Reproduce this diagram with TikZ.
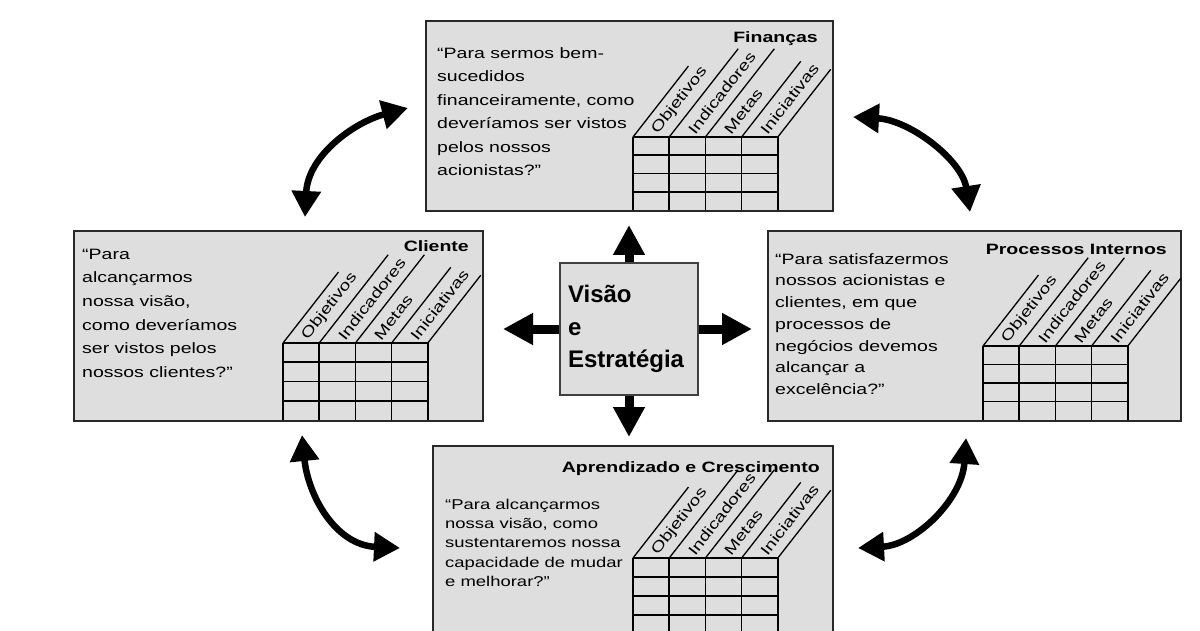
\documentclass[tikz,border=0pt]{standalone}
\usepackage{fontspec}
\setmainfont{Liberation Sans}
\newfontfamily\bodyfont{Liberation Sans}[FakeStretch=1.3]
\usetikzlibrary{arrows.meta}

\definecolor{panelfill}{RGB}{222,222,222}
\definecolor{panelrule}{RGB}{40,40,40}

\tikzset{
  panel/.style={draw=panelrule, line width=2pt, fill=panelfill, anchor=north west, inner sep=0pt},
  hub/.style={draw=black!75, line width=1.3pt, fill=panelfill, minimum width=138pt, minimum height=132pt,
    text width=122pt, align=left, inner sep=0pt, font=\bfseries\fontsize{24}{32.5}\selectfont},
  gridline/.style={line width=1.6pt, black},
  diagline/.style={line width=1.3pt, black},
  collabel/.style={anchor=west, rotate=52, inner sep=0pt, font=\bodyfont\fontsize{14.8}{16}\selectfont},
  paneltitle/.style={anchor=base east, inner sep=0pt, font=\bodyfont\bfseries\fontsize{15}{18}\selectfont},
  question/.style={anchor=north west, inner sep=0pt, align=left},
  radial/.style={line width=9pt, -{Triangle[length=30pt,width=30pt]}},
  swap arrow/.style={line width=6.5pt, {Triangle[length=26pt,width=28pt]}-{Triangle[length=26pt,width=28pt]}},
}

% Scorecard table: 4 columns with slanted headers
% #1 name prefix, #2 left x, #3 top y, #4 row height, #5 bottom y
\newcommand\bscgrid[5]{%
  \foreach \i in {0,...,4}
    \draw[gridline] ({#2+\i*36.2},#3) -- ({#2+\i*36.2},#5);
  \foreach \j in {0,...,3}
    \draw[gridline] (#2,{#3+\j*#4}) -- ({#2+4*36.2},{#3+\j*#4});
  \foreach \i/\L in {0/90,1/112,2/112,3/96,4/86}
    \draw[diagline] ({#2+\i*36.2},#3) -- ++({0.616*\L},{-0.788*\L});
  \foreach \i/\t in {0/Objetivos,1/Indicadores,2/Metas,3/Iniciativas}
    \node[collabel] (#1-lab-\i) at ({#2+\i*36.2+18.1+0.616*6},{#3-0.788*6}) {\t};
}

\begin{document}
\begin{tikzpicture}[x=1pt,y=-1pt]
\useasboundingbox (0,0) rectangle (1200,631);
\clip (0,0) rectangle (1200,631);

% four perspective panels
\node[panel, minimum width=407pt, minimum height=190pt] (fin) at (425,20) {};
\node[panel, minimum width=409pt, minimum height=190pt] (cli) at (73,230) {};
\node[panel, minimum width=413pt, minimum height=190pt] (pro) at (767,230) {};
\node[panel, minimum width=400pt, minimum height=210pt] (apr) at (432,445) {};

% titles
\node[paneltitle] (finT) at (818,43) {Finanças};
\node[paneltitle] (cliT) at (469,252) {Cliente};
\node[paneltitle] (proT) at (1167,255) {Processos Internos};
\node[paneltitle] (aprT) at (820,472) {Aprendizado e Crescimento};

% questions
\node[question, font=\bodyfont\fontsize{15}{23.5}\selectfont] (finQ) at (437,46)
  {\rule{0pt}{12pt}“Para sermos bem-\\sucedidos\\financeiramente, como\\deveríamos ser vistos\\pelos nossos\\acionistas?”};
\node[question, font=\bodyfont\fontsize{15}{23.6}\selectfont] (cliQ) at (82,247)
  {\rule{0pt}{12pt}“Para\\alcançarmos\\nossa visão,\\como deveríamos\\ser vistos pelos\\nossos clientes?”};
\node[question, font=\bodyfont\fontsize{15}{21.7}\selectfont] (proQ) at (775,252)
  {\rule{0pt}{12pt}“Para satisfazermos\\nossos acionistas e\\clientes, em que\\processos de\\negócios devemos\\alcançar a\\excelência?”};
\node[question, font=\bodyfont\fontsize{14.2}{19.3}\selectfont] (aprQ) at (445,497)
  {\rule{0pt}{12pt}“Para alcançarmos\\nossa visão, como\\sustentaremos nossa\\capacidade de mudar\\e melhorar?”};

% tables
\bscgrid{fin}{633}{137}{18.25}{210}
\bscgrid{cli}{283}{343}{19.25}{420}
\bscgrid{pro}{983}{346}{18.5}{420}
\bscgrid{apr}{633}{558}{19}{650}

% central box with four arrows
\node[hub] (vis) at (629,329) {Visão\\e\\Estratégia};
\coordinate (upTip) at (629,225);
\coordinate (downTip) at (629,437);
\coordinate (leftTip) at (503,329);
\coordinate (rightTip) at (752,329);
\draw[radial] (vis.north) -- (upTip);
\draw[radial] (vis.south) -- (downTip);
\draw[radial] (vis.west) -- (leftTip);
\draw[radial] (vis.east) -- (rightTip);

% curved two-way arrows between neighbouring panels
\coordinate (tlA) at (305,217);
\coordinate (tlB) at (408,108);
\coordinate (trA) at (853,117);
\coordinate (trB) at (970,212);
\coordinate (blA) at (302,435);
\coordinate (blB) at (400,548);
\coordinate (brA) at (966,438);
\coordinate (brB) at (858,548);
\draw[swap arrow] (tlA) .. controls (308,155) and (355,122) .. (tlB);
\draw[swap arrow] (trA) .. controls (910,120) and (962,160) .. (trB);
\draw[swap arrow] (blA) .. controls (308,495) and (335,545) .. (blB);
\draw[swap arrow] (brA) .. controls (962,500) and (915,545) .. (brB);
\end{tikzpicture}
\end{document}
